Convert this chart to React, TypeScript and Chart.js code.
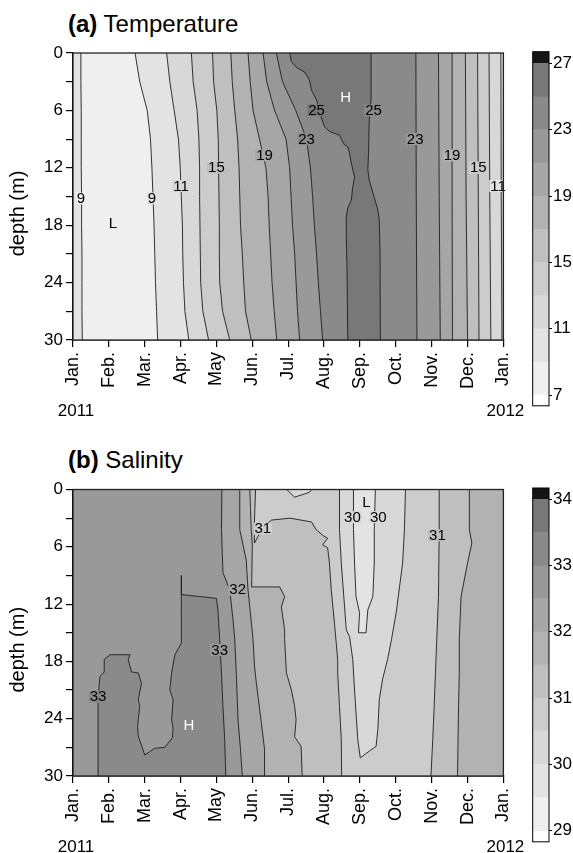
import React, { useEffect, useRef } from 'react';
import { Chart, registerables } from 'chart.js';

Chart.register(...registerables);

const FONT = "'Liberation Sans', Arial, Helvetica, sans-serif";
Chart.defaults.font.family = FONT;
Chart.defaults.color = '#000';

type Pt = [number, number];
type Lbl = { x: number; y: number; text: string; color: string; bg: number };

// ---------- shared axes ----------
const MONTHS = ['Jan.', 'Feb.', 'Mar.', 'Apr.', 'May', 'Jun.', 'Jul.', 'Aug.', 'Sep.', 'Oct.', 'Nov.', 'Dec.', 'Jan.'];
const YEARS = ['2011', '2012'];
const DEPTH_TICKS = [0, 3, 6, 9, 12, 15, 18, 21, 24, 27, 30];
const DEPTH_LABELS = [0, 6, 12, 18, 24, 30];
const GREYS = ['#ffffff', '#eeefee', '#e3e3e3', '#d8d8d8', '#cccccc', '#bfbfbf', '#b2b2b2', '#a6a6a6', '#999999', '#8a8a8a', '#787878', '#151515'];

// ---------- (a) Temperature ----------
const T_LEVELS = [7, 9, 11, 13, 15, 17, 19, 21, 23, 25, 27];
const T_LABELLED = [7, 11, 15, 19, 23, 27];
const T_RANGE: Pt = [6.36, 27.7];
const T_DEPTHS = [0, 3, 6, 9, 12, 15, 18, 21, 24, 27, 30];
const T09_LEFT = [0.22, 0.22, 0.23, 0.23, 0.23, 0.24, 0.24, 0.25, 0.25, 0.25, 0.26];
const T09_RISE = [1.73, 1.86, 2.07, 2.16, 2.2, 2.23, 2.26, 2.28, 2.3, 2.33, 2.36];
const T11_RISE = [2.61, 2.7, 2.82, 2.94, 2.99, 3.02, 3.05, 3.06, 3.08, 3.12, 3.23];
const T13_RISE = [3.3, 3.35, 3.46, 3.51, 3.53, 3.53, 3.54, 3.55, 3.56, 3.62, 3.78];
const T15_RISE = [3.89, 3.92, 4.01, 4.05, 4.06, 4.07, 4.08, 4.08, 4.09, 4.17, 4.37];
const T17_RISE = [4.4, 4.44, 4.51, 4.59, 4.63, 4.65, 4.67, 4.72, 4.76, 4.81, 4.97];
const T19_RISE = [4.88, 4.94, 5.02, 5.2, 5.38, 5.44, 5.47, 5.51, 5.55, 5.61, 5.68];
const T21_RISE = [5.3, 5.4, 5.62, 5.94, 6.04, 6.08, 6.12, 6.18, 6.22, 6.26, 6.32];
const T23_RISE = [5.67, 5.84, 6.21, 6.51, 6.62, 6.68, 6.73, 6.79, 6.84, 6.9, 6.96];
const T25_RISE: Pt[] = [
  [6.04, 0], [6.09, 0.9], [6.23, 1.5], [6.46, 2.0], [6.59, 2.8], [6.65, 3.9], [6.79, 4.9], [6.9, 6.5],
  [7.01, 7.7], [7.15, 8.2], [7.43, 8.6], [7.49, 9.1], [7.57, 9.6], [7.66, 9.8], [7.71, 10.5], [7.76, 11.5],
  [7.85, 13.0], [7.8, 14.0], [7.76, 15.4], [7.66, 16.2], [7.62, 17.1], [7.62, 19.2], [7.64, 22.7], [7.66, 30],
];
const T25_FALL: Pt[] = [
  [8.31, 0], [8.31, 4.9], [8.26, 7.0], [8.24, 10.5], [8.22, 12.2], [8.26, 13.3], [8.4, 15.1], [8.5, 16.4],
  [8.54, 17.5], [8.56, 20.9], [8.57, 30],
];
const T23_FALL: Pt[] = [[9.56, 0], [9.57, 15], [9.59, 30]];
const T21_FALL: Pt[] = [[10.19, 0], [10.21, 15], [10.24, 30]];
const T19_FALL: Pt[] = [[10.57, 0], [10.57, 15], [10.58, 30]];
const T17_FALL: Pt[] = [[10.94, 0], [10.96, 15], [11.0, 30]];
const T15_FALL: Pt[] = [[11.28, 0], [11.3, 15], [11.32, 30]];
const T13_FALL: Pt[] = [[11.6, 0], [11.62, 15], [11.65, 30]];
const T11_FALL: Pt[] = [[11.93, 0], [11.94, 15], [11.96, 30]];
const T_LABELS: Lbl[] = [
  { x: 0.22, y: 15.2, text: '9', color: '#000', bg: 1 },
  { x: 2.2, y: 15.2, text: '9', color: '#000', bg: 2 },
  { x: 3.01, y: 13.9, text: '11', color: '#000', bg: 3 },
  { x: 4.0, y: 12.0, text: '15', color: '#000', bg: 5 },
  { x: 5.34, y: 10.7, text: '19', color: '#000', bg: 7 },
  { x: 6.51, y: 9.0, text: '23', color: '#000', bg: 9 },
  { x: 6.79, y: 6.0, text: '25', color: '#000', bg: 10 },
  { x: 7.6, y: 4.6, text: 'H', color: '#fff', bg: -1 },
  { x: 8.38, y: 6.0, text: '25', color: '#000', bg: 9 },
  { x: 9.54, y: 9.0, text: '23', color: '#000', bg: 8 },
  { x: 10.57, y: 10.7, text: '19', color: '#000', bg: 6 },
  { x: 11.3, y: 12.0, text: '15', color: '#000', bg: 4 },
  { x: 11.85, y: 13.9, text: '11', color: '#000', bg: 2 },
  { x: 1.11, y: 17.8, text: 'L', color: '#000', bg: -1 },
];

// ---------- (b) Salinity ----------
const S_LEVELS = [29, 29.5, 30, 30.5, 31, 31.5, 32, 32.5, 33, 33.5, 34];
const S_LABELLED = [29, 30, 31, 32, 33, 34];
const S_RANGE: Pt = [28.83, 34.17];
const S325: Pt[] = [[4.15, 0], [4.14, 4.2], [4.18, 8.7], [4.37, 10.5], [4.46, 13.6], [4.51, 15.7], [4.56, 19.9], [4.6, 24.1], [4.67, 27.2], [4.72, 30]];
const S320: Pt[] = [[4.65, 0], [4.65, 4.2], [4.83, 7.4], [4.88, 10.5], [5.02, 15.7], [5.06, 18.5], [5.11, 20.2], [5.25, 24.4], [5.34, 27.2], [5.34, 30]];
const S315_W: Pt[] = [
  [4.93, 0], [4.95, 2.1], [4.97, 4.2], [5.0, 5.8], [4.98, 10.2], [5.76, 10.2], [5.9, 11.2], [5.81, 12.3],
  [5.9, 14.7], [5.9, 15.7], [5.95, 19.2], [6.09, 21.0], [6.18, 22.7], [6.22, 24.1], [6.18, 25.9], [6.36, 26.9], [6.39, 30],
];
const S310_W: Pt[] = [
  [5.09, 0], [5.07, 2.1], [5.05, 4.2], [5.06, 5.6], [5.3, 3.9], [5.54, 3.2], [6.05, 3.0], [6.65, 3.4],
  [6.78, 4.2], [6.96, 4.8], [7.1, 5.1], [6.96, 5.8], [7.1, 6.1], [7.15, 7.7],
  [7.2, 10.5], [7.29, 14.0], [7.38, 17.8], [7.38, 19.2], [7.43, 22.7], [7.48, 26.2], [7.49, 30],
];
const S305_TOP: Pt[] = [[5.96, 0], [6.18, 0.8], [6.59, 0.3], [6.65, 0]];
const S305_TONGUE: Pt[] = [
  [7.43, 0], [7.43, 4.2], [7.48, 7.7], [7.62, 14.7], [7.71, 15.4], [7.8, 17.8], [7.85, 21.0], [7.94, 26.2],
  [8.01, 28.1], [8.26, 27.4], [8.45, 26.9], [8.5, 25.1], [8.54, 22.0], [8.63, 19.9], [8.77, 17.8], [8.88, 15.7],
  [9.01, 12.9], [9.19, 7.7], [9.24, 4.2], [9.27, 0],
];
const S300_CORE: Pt[] = [
  [7.82, 0], [7.82, 4.2], [7.85, 7.7], [7.89, 11.2], [7.99, 12.9], [7.96, 15.0], [8.17, 15.0], [8.22, 12.6],
  [8.36, 11.2], [8.4, 7.7], [8.4, 4.2], [8.43, 0],
];
const S310_E: Pt[] = [[10.21, 0], [10.21, 4.2], [10.19, 11.2], [10.12, 17.8], [10.07, 22.7], [10.03, 26.2], [9.98, 30]];
const S315_E: Pt[] = [[11.05, 0], [11.05, 4.2], [11.12, 5.6], [11.0, 7.7], [10.82, 11.2], [10.77, 15.7], [10.77, 19.2], [10.75, 22.7], [10.72, 30]];
const S330_BLOB: Pt[] = [
  [0.7, 30], [0.7, 22.0], [0.72, 21.0], [0.75, 19.6], [0.87, 19.1], [0.87, 17.8], [1.03, 17.3], [1.59, 17.3],
  [1.54, 17.8], [1.63, 19.1], [1.82, 19.2], [1.91, 20.3], [1.82, 22.0], [1.86, 22.7], [1.8, 24.8], [1.82, 25.8],
  [2.0, 27.8], [2.28, 27.1], [2.56, 27.0], [2.77, 26.0], [2.79, 25.0], [2.75, 24.1], [2.79, 22.0], [2.7, 21.0],
  [2.75, 19.2], [2.84, 17.3], [3.02, 16.1], [3.02, 11.0], [3.02, 9.0], [3.02, 11.0], [4.0, 11.4], [4.04, 12.6],
  [4.09, 15.7], [4.14, 19.2], [4.18, 22.7], [4.23, 26.2], [4.26, 30],
];
const S_LABELS: Lbl[] = [
  { x: 5.29, y: 4.1, text: '31', color: '#000', bg: 4 },
  { x: 10.16, y: 4.8, text: '31', color: '#000', bg: 5 },
  { x: 7.79, y: 2.9, text: '30', color: '#000', bg: 3 },
  { x: 8.51, y: 2.9, text: '30', color: '#000', bg: 3 },
  { x: 8.18, y: 1.3, text: 'L', color: '#000', bg: -1 },
  { x: 4.59, y: 10.5, text: '32', color: '#000', bg: 7 },
  { x: 4.09, y: 16.8, text: '33', color: '#000', bg: 8 },
  { x: 0.7, y: 21.7, text: '33', color: '#000', bg: 9 },
  { x: 3.23, y: 24.7, text: 'H', color: '#fff', bg: -1 },
];

// ---------- helpers ----------
const zipDepth = (xs: number[]): Pt[] => xs.map((x, i) => [x, T_DEPTHS[i]] as Pt);
const WHOLE: Pt[] = [[0, 0], [0, 30], [12, 30], [12, 0]];
const east = (line: Pt[]): Pt[] => [...line, [12, 30], [12, 0]];
type Fill = { pts: Pt[]; c: number };

const T_LINES_RISE = [T09_RISE, T11_RISE, T13_RISE, T15_RISE, T17_RISE, T19_RISE, T21_RISE, T23_RISE].map(zipDepth);
const T_FALLS = [T25_FALL, T23_FALL, T21_FALL, T19_FALL, T17_FALL, T15_FALL, T13_FALL, T11_FALL];
const T_FILLS: Fill[] = [
  { pts: WHOLE, c: 2 },
  { pts: east(zipDepth(T09_LEFT)), c: 1 },
  ...T_LINES_RISE.map((l, i) => ({ pts: east(l), c: i + 2 })),
  { pts: east(T25_RISE), c: 10 },
  ...T_FALLS.map((l, i) => ({ pts: east(l), c: 9 - i })),
];
const T_LINES: Pt[][] = [zipDepth(T09_LEFT), ...T_LINES_RISE, T25_RISE, ...T_FALLS];

const S_FILLS: Fill[] = [
  { pts: WHOLE, c: 8 },
  { pts: east(S325), c: 7 },
  { pts: east(S320), c: 6 },
  { pts: east(S315_W), c: 5 },
  { pts: east(S310_W), c: 4 },
  { pts: east(S310_E), c: 5 },
  { pts: east(S315_E), c: 6 },
  { pts: S305_TOP, c: 3 },
  { pts: S305_TONGUE, c: 3 },
  { pts: S300_CORE, c: 2 },
  { pts: S330_BLOB, c: 9 },
];
const S_LINES: Pt[][] = [S325, S320, S315_W, S310_W, S305_TOP, S305_TONGUE, S300_CORE, S310_E, S315_E, S330_BLOB];

const toXY = (p: Pt[]) => p.map(([x, y]) => ({ x, y }));
const SOLID = [4000, 0];

function decoPlugin(labels: Lbl[]) {
  return {
    id: 'deco',
    afterDatasetsDraw(chart: any) {
      const { ctx, chartArea: a, scales } = chart;
      const xs = scales.x;
      const ys = scales.y;
      ctx.save();
      ctx.font = `15px ${FONT}`;
      ctx.textAlign = 'center';
      ctx.textBaseline = 'middle';
      labels.forEach((l) => {
        const px = xs.getPixelForValue(l.x);
        const py = ys.getPixelForValue(l.y);
        if (l.bg >= 0) {
          const w = ctx.measureText(l.text).width;
          const x0 = Math.max(a.left, px - w / 2 - 1);
          const x1 = Math.min(a.right, px + w / 2 + 1);
          ctx.fillStyle = GREYS[l.bg];
          ctx.fillRect(x0, py - 6, x1 - x0, 12);
        }
        ctx.fillStyle = l.color;
        ctx.fillText(l.text, px, py + 0.5);
      });
      ctx.strokeStyle = '#222';
      ctx.lineWidth = 1.3;
      ctx.strokeRect(a.left, a.top, a.right - a.left, a.bottom - a.top);
      ctx.restore();
    },
    afterDraw(chart: any) {
      const { ctx, chartArea: a, scales } = chart;
      ctx.save();
      ctx.fillStyle = '#000';
      ctx.font = `17px ${FONT}`;
      ctx.textAlign = 'center';
      ctx.textBaseline = 'alphabetic';
      ctx.fillText(YEARS[0], scales.x.getPixelForValue(0) + 3, 415.5);
      ctx.fillText(YEARS[1], scales.x.getPixelForValue(12) + 2, 415.5);
      ctx.translate(18.5, (a.top + a.bottom) / 2 + 17);
      ctx.rotate(-Math.PI / 2);
      ctx.font = `20px ${FONT}`;
      ctx.textBaseline = 'middle';
      ctx.fillText('depth (m)', 0, 0);
      ctx.restore();
    },
  };
}

const framePlugin = {
  id: 'cbframe',
  afterDraw(chart: any) {
    const { ctx, chartArea: a } = chart;
    ctx.save();
    ctx.strokeStyle = '#000';
    ctx.lineWidth = 1;
    ctx.strokeRect(a.left, a.top, a.right - a.left, a.bottom - a.top);
    ctx.restore();
  },
};

type PanelProps = {
  top: number;
  tag: string;
  name: string;
  fills: Fill[];
  lines: Pt[][];
  labels: Lbl[];
  levels: number[];
  labelled: number[];
  range: Pt;
  plotTop: number;
  cbTop: number;
  cbBottom: number;
};

function Panel(p: PanelProps) {
  const mainRef = useRef<HTMLCanvasElement>(null);
  const cbRef = useRef<HTMLCanvasElement>(null);

  useEffect(() => {
    const n = p.fills.length;
    const datasets: any[] = [];
    p.fills.forEach((f, i) => {
      datasets.push({
        data: toXY(f.pts),
        showLine: true,
        fill: 'shape',
        backgroundColor: GREYS[f.c],
        borderColor: 'rgba(0,0,0,0)',
        borderWidth: 0,
        borderDash: SOLID,
        pointRadius: 0,
        tension: 0,
        order: n + 10 - i,
      });
    });
    p.lines.forEach((l) => {
      datasets.push({
        data: toXY(l),
        showLine: true,
        fill: false,
        borderColor: '#1e1e1e',
        borderWidth: 0.9,
        borderDash: SOLID,
        pointRadius: 0,
        tension: 0,
        order: -1,
      });
    });

    const main = new Chart(mainRef.current as HTMLCanvasElement, {
      type: 'scatter',
      data: { datasets },
      options: {
        animation: false,
        responsive: false,
        maintainAspectRatio: false,
        events: [],
        layout: { padding: { top: p.plotTop, left: 0, right: 26, bottom: 0 } },
        plugins: { legend: { display: false }, tooltip: { enabled: false } },
        scales: {
          x: {
            type: 'linear',
            min: 0,
            max: 12,
            afterBuildTicks: (s: any) => {
              s.ticks = MONTHS.map((_, i) => ({ value: i }));
            },
            afterFit: (s: any) => {
              s.height = 77;
            },
            ticks: {
              autoSkip: false,
              minRotation: 90,
              maxRotation: 90,
              padding: 5,
              font: { size: 18 },
              color: '#000',
              callback: (_v: any, i: number) => MONTHS[i],
            },
            grid: { drawOnChartArea: false, drawTicks: true, tickLength: 7, color: '#000', lineWidth: 1.2 },
            border: { display: true, color: '#000', width: 1.5 },
          },
          y: {
            type: 'linear',
            reverse: true,
            min: 0,
            max: 30,
            afterBuildTicks: (s: any) => {
              s.ticks = DEPTH_TICKS.map((v) => ({ value: v }));
            },
            afterFit: (s: any) => {
              s.width = 73;
            },
            ticks: {
              autoSkip: false,
              padding: 3,
              font: { size: 17 },
              color: '#000',
              callback: (v: any) => (DEPTH_LABELS.includes(Number(v)) ? String(v) : ''),
            },
            grid: { drawOnChartArea: false, drawTicks: true, tickLength: 7, color: '#000', lineWidth: 1.2 },
            border: { display: true, color: '#000', width: 1.5 },
          },
        },
      },
      plugins: [decoPlugin(p.labels)],
    } as any);

    const bounds = [p.range[0], ...p.levels, p.range[1]];
    const cbData = bounds.slice(0, -1).map((lo, i) => ({
      data: [[lo, bounds[i + 1]]],
      backgroundColor: GREYS[i],
      borderWidth: 0,
      grouped: false,
      barPercentage: 1,
      categoryPercentage: 1,
    }));
    const cb = new Chart(cbRef.current as HTMLCanvasElement, {
      type: 'bar',
      data: { labels: [''], datasets: cbData },
      options: {
        animation: false,
        responsive: false,
        maintainAspectRatio: false,
        events: [],
        layout: { padding: { top: p.cbTop, left: 12.7, right: 0, bottom: 417 - p.cbBottom } },
        plugins: { legend: { display: false }, tooltip: { enabled: false } },
        scales: {
          x: { display: false },
          y: {
            position: 'right',
            min: p.range[0],
            max: p.range[1],
            z: 1,
            afterBuildTicks: (s: any) => {
              s.ticks = p.levels.map((v) => ({ value: v }));
            },
            afterFit: (s: any) => {
              s.width = 24;
            },
            ticks: {
              autoSkip: false,
              padding: 1,
              font: { size: 17 },
              color: '#000',
              callback: (v: any) => (p.labelled.includes(Number(v)) ? String(v) : ''),
            },
            grid: {
              drawOnChartArea: true,
              drawTicks: true,
              tickLength: 3,
              color: '#000',
              lineWidth: 1,
              tickColor: (c: any) => (c.tick && p.labelled.includes(c.tick.value) ? '#000' : 'rgba(0,0,0,0)'),
            },
            border: { display: true, color: '#000', width: 1 },
          },
        },
      },
      plugins: [framePlugin],
    } as any);

    return () => {
      main.destroy();
      cb.destroy();
    };
  }, []);

  return (
    <div style={{ position: 'absolute', left: 0, top: p.top, width: 573, height: 417 }}>
      <div
        style={{
          position: 'absolute',
          left: 68,
          top: 12,
          fontFamily: FONT,
          fontSize: 24,
          lineHeight: '24px',
          whiteSpace: 'nowrap',
          color: '#000',
        }}
      >
        <b>({p.tag})</b> {p.name}
      </div>
      <canvas ref={mainRef} width={530} height={417} style={{ position: 'absolute', left: 0, top: 0, width: 530, height: 417 }} />
      <canvas ref={cbRef} width={53} height={417} style={{ position: 'absolute', left: 520, top: 0, width: 53, height: 417 }} />
    </div>
  );
}

export default function App() {
  return (
    <div style={{ position: 'absolute', left: 0, top: 0, width: 573, height: 853, background: '#fff', overflow: 'hidden' }}>
      <Panel
        top={0}
        tag="a"
        name="Temperature"
        fills={T_FILLS}
        lines={T_LINES}
        labels={T_LABELS}
        levels={T_LEVELS}
        labelled={T_LABELLED}
        range={T_RANGE}
        plotTop={53}
        cbTop={51.7}
        cbBottom={410}
      />
      <Panel
        top={436}
        tag="b"
        name="Salinity"
        fills={S_FILLS}
        lines={S_LINES}
        labels={S_LABELS}
        levels={S_LEVELS}
        labelled={S_LABELLED}
        range={S_RANGE}
        plotTop={53.5}
        cbTop={52}
        cbBottom={409}
      />
    </div>
  );
}
